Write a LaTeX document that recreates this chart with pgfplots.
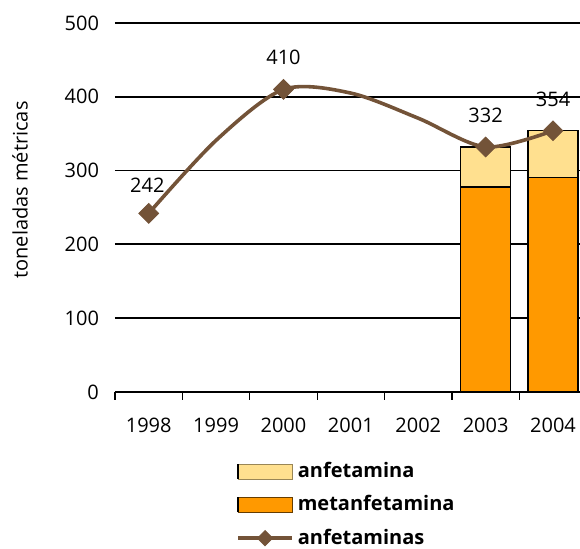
\documentclass[border=0pt]{standalone}
\usepackage{fontspec}
\setmainfont{Open Sans}
\usepackage{pgfplots}
\pgfplotsset{compat=1.18}
\definecolor{brownl}{RGB}{115,83,56}
\definecolor{orangeb}{RGB}{255,153,0}
\definecolor{yellowb}{RGB}{255,224,143}
\pgfplotsset{base/.style={
  scale only axis, width=232.5pt, height=184.5pt,
  at={(0,0)}, anchor=south west,
  xmin=-0.5, xmax=6.4, ymin=0, ymax=500,
  clip=false,
  /pgf/number format/assume math mode=true,
}}
\begin{document}
\begin{tikzpicture}[font=\fontsize{10}{12}\selectfont]
\begin{axis}[base,
  ybar stacked, bar width=0.74,
  axis x line*=bottom, axis y line*=left,
  axis line style={-},
  y axis line style={draw=none},
  x axis line style={line width=0.8pt},
  ytick={0,100,...,500}, ymajorgrids, grid style={black, line width=0.9pt},
  ytick style={draw=none},
  yticklabel style={xshift=-0.5pt},
  xtick={0,1,2,3,4,5,6}, xticklabels={1998,1999,2000,2001,2002,2003,2004},
  xticklabel style={yshift=-5.5pt},
  major x tick style={draw=none},
  minor xtick={-0.5,0.5,1.5,2.5,3.5,4.5,5.5},
  minor x tick style={black, line width=0.6pt},
  tick align=outside, minor tick length=4pt, major tick length=4pt,
]
\addplot[fill=orangeb, draw=black, line width=0.7pt] coordinates {(5,278) (6,291)};
\addplot[fill=yellowb, draw=black, line width=0.7pt] coordinates {(5,54) (6,63)};
\node at (axis cs:5,139) {278};
\node at (axis cs:6,139) {291};
\node at (axis cs:5,304) {54};
\node at (axis cs:6,322) {63};
\end{axis}
\begin{axis}[base, hide axis,
  legend style={draw=none, fill=none, font=\bfseries, row sep=3.5pt,
    at={(axis description cs:0.2470,-0.168)}, anchor=north west,
    cells={anchor=west}},
]
\addplot[brownl, line width=1.8pt, smooth, mark=square*,
  mark options={rotate=45, fill=brownl, draw=brownl, line width=0.4pt, solid},
  mark size=3.5pt, mark indices={1,3,6,7}, forget plot]
  coordinates {(0,242) (1,341) (2,410) (3,405) (4,371) (5,332) (6,354)};
\node at (axis cs:-0.02,280) {242};
\node at (axis cs:2,454) {410};
\node at (axis cs:5,375) {332};
\node at (axis cs:6,396) {354};
\addlegendimage{legend image code/.code={\draw[fill=yellowb, draw=black!40!yellowb, line width=0.5pt] (0pt,-3.75pt) rectangle (27pt,3.75pt); \draw[black, line width=0.8pt] (0pt,-3.75pt) -- (0pt,3.75pt);}}
\addlegendentry{anfetamina}
\addlegendimage{legend image code/.code={\draw[fill=orangeb, draw=black!60!orangeb, line width=0.5pt] (0pt,-3.75pt) rectangle (27pt,3.75pt); \draw[black, line width=0.8pt] (0pt,-3.75pt) -- (0pt,3.75pt);}}
\addlegendentry{metanfetamina}
\addlegendimage{legend image code/.code={\draw[brownl, line width=1.8pt] (0pt,0pt) -- (27pt,0pt); \fill[brownl] (13.5pt,3.8pt) -- (17.3pt,0pt) -- (13.5pt,-3.8pt) -- (9.7pt,0pt) -- cycle;}}
\addlegendentry{anfetaminas}
\end{axis}
\node[rotate=90] at (-47.5pt,101pt) {toneladas métricas};
\pgfresetboundingbox
\path (-57.5pt,-78.5pt) rectangle (232.5pt,196pt);
\end{tikzpicture}
\end{document}
